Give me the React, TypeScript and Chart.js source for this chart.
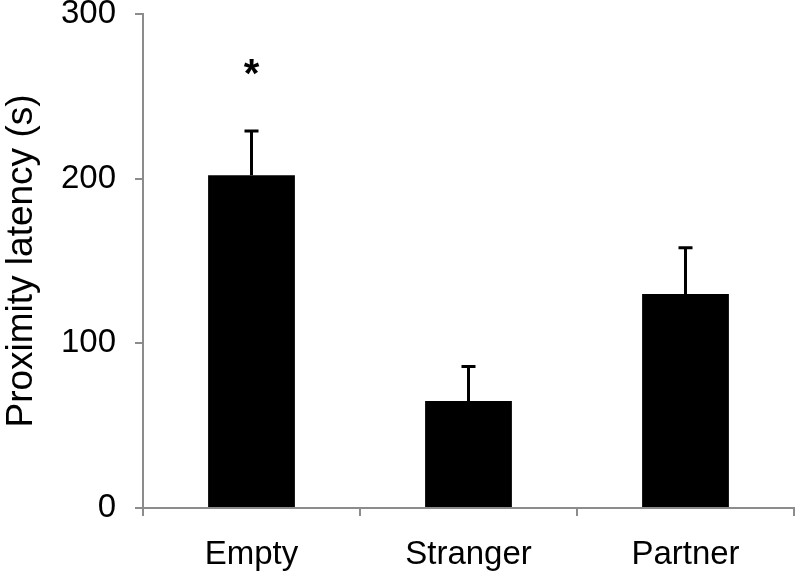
import React, { useEffect, useRef } from "react";
import { Chart, registerables } from "chart.js";

Chart.register(...registerables);

const categories = ["Empty", "Stranger", "Partner"];
const means = [202, 65, 130];
const errorUpper = [229, 86, 158];
const significance = ["*", "", ""];
const yTicks = [0, 100, 200, 300];

const FONT = "'Liberation Sans', Arial, Helvetica, sans-serif";

const errorBarPlugin = {
  id: "errorBars",
  afterDatasetsDraw(chart: any) {
    const ctx = chart.ctx;
    const meta = chart.getDatasetMeta(0);
    const y = chart.scales.y;
    ctx.save();
    ctx.strokeStyle = "#000";
    ctx.lineWidth = 3;
    meta.data.forEach((bar: any, i: number) => {
      const x = bar.x;
      const yTop = y.getPixelForValue(errorUpper[i]);
      const yBase = y.getPixelForValue(means[i]);
      ctx.beginPath();
      ctx.moveTo(x, yBase);
      ctx.lineTo(x, yTop);
      ctx.moveTo(x - 7, yTop);
      ctx.lineTo(x + 7, yTop);
      ctx.stroke();
      if (significance[i]) {
        ctx.fillStyle = "#000";
        ctx.font = `bold 40px ${FONT}`;
        ctx.textAlign = "center";
        ctx.textBaseline = "middle";
        ctx.fillText(significance[i], x, yTop - 55);
      }
    });
    ctx.restore();
  },
};

export default function App() {
  const ref = useRef<HTMLCanvasElement | null>(null);
  useEffect(() => {
    document.body.style.margin = "0";
    const chart = new Chart(ref.current!, {
      type: "bar",
      data: {
        labels: categories,
        datasets: [
          {
            data: means,
            backgroundColor: "#000",
            borderWidth: 0,
            barPercentage: 0.4,
            categoryPercentage: 1,
          },
        ],
      },
      options: {
        responsive: false,
        animation: false,
        devicePixelRatio: 1,
        layout: { padding: { top: 14, right: 6, left: 0, bottom: 0 } },
        plugins: { legend: { display: false }, tooltip: { enabled: false } },
        scales: {
          x: {
            afterFit: (s: any) => {
              s.height = 73;
              s.paddingLeft = 0;
              s.paddingRight = 0;
            },
            grid: {
              offset: true,
              drawOnChartArea: false,
              drawTicks: true,
              tickLength: 8,
              color: "#8c8c8c",
              lineWidth: 2,
            },
            border: { color: "#8c8c8c", width: 2 },
            ticks: {
              color: "#000",
              font: { family: FONT, size: 33 },
              padding: 19,
            },
          },
          y: {
            min: 0,
            max: 300,
            afterFit: (s: any) => {
              s.width = 143;
              s.paddingTop = 0;
              s.paddingBottom = 0;
            },
            afterBuildTicks: (s: any) => {
              s.ticks = yTicks.map((v) => ({ value: v }));
            },
            grid: {
              drawOnChartArea: false,
              drawTicks: true,
              tickLength: 8,
              color: "#8c8c8c",
              lineWidth: 2,
            },
            border: { color: "#8c8c8c", width: 2 },
            ticks: {
              color: "#000",
              font: { family: FONT, size: 33 },
              padding: 19,
            },
            title: {
              display: true,
              text: "Proximity latency (s)",
              color: "#000",
              font: { family: FONT, size: 37 },
              padding: { top: 0, bottom: 0 },
            },
          },
        },
      },
      plugins: [errorBarPlugin],
    });
    return () => chart.destroy();
  }, []);
  return (
    <div style={{ width: 800, height: 581 }}>
      <canvas ref={ref} width={800} height={581} style={{ display: "block" }} />
    </div>
  );
}
